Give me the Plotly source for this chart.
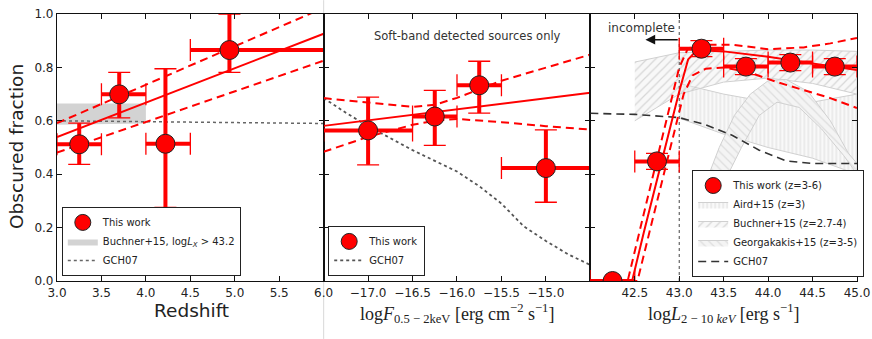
import plotly.graph_objects as go

# ---- left panel: obscured fraction vs redshift ----
z_mid = [3.25, 3.70, 4.22, 4.94]
z_lo = [3.0, 3.5, 4.0, 4.5]
z_hi = [3.5, 4.0, 4.5, 6.0]
fz = [0.512, 0.699, 0.514, 0.865]
fz_lo = [0.437, 0.611, 0.276, 0.781]
fz_hi = [0.591, 0.781, 0.795, 1.0]

zfit_x = [3.0, 6.0]
zfit = [0.539, 0.926]
zfit_up = [0.591, 1.023]
zfit_dn = [0.481, 0.825]

buchner_z = [3.0, 4.0]
buchner_z_up = [0.665, 0.665]
buchner_z_dn = [0.585, 0.590]

gch_z = [3.0, 4.0, 5.0, 6.0]
gch_z_f = [0.600, 0.597, 0.594, 0.590]

# ---- middle panel: vs soft-band flux ----
s_mid = [-17.0, -16.25, -15.75, -15.0]
s_lo = [-17.5, -16.5, -16.0, -15.5]
s_hi = [-16.5, -16.0, -15.5, -14.5]
fs = [0.564, 0.616, 0.733, 0.423]
fs_lo = [0.435, 0.508, 0.629, 0.295]
fs_hi = [0.689, 0.714, 0.823, 0.566]

sfit_x = [-17.5, -14.5]
sfit = [0.581, 0.705]
sband_x = [-17.5, -17.0, -16.5, -16.25, -16.0, -15.5, -15.0, -14.5]
sband_up = [0.685, 0.668, 0.652, 0.660, 0.686, 0.750, 0.800, 0.848]
sband_dn = [0.484, 0.540, 0.585, 0.600, 0.607, 0.595, 0.580, 0.567]

gch_s = [-17.5, -17.25, -17.0, -16.75, -16.5, -16.25, -16.0, -15.75, -15.5, -15.25, -15.0, -14.75, -14.5]
gch_s_f = [0.685, 0.630, 0.580, 0.535, 0.490, 0.450, 0.410, 0.355, 0.290, 0.205, 0.150, 0.100, 0.060]

# ---- right panel: vs hard-band luminosity ----
l_mid = [42.25, 42.75, 43.25, 43.75, 44.25, 44.75]
l_lo = [42.0, 42.5, 43.0, 43.5, 44.0, 44.5]
l_hi = [42.5, 43.0, 43.5, 44.0, 44.5, 45.0]
fl = [0.0, 0.448, 0.870, 0.803, 0.818, 0.803]
fl_lo = [0.0, 0.418, 0.840, 0.773, 0.788, 0.773]
fl_hi = [0.0, 0.478, 0.900, 0.833, 0.848, 0.833]

lfit_x = [42.0, 42.47, 42.6, 42.75, 42.9, 43.0, 43.1, 43.2, 43.5, 44.0, 44.5, 45.0]
lfit = [0.0, 0.0, 0.18, 0.38, 0.58, 0.71, 0.83, 0.865, 0.860, 0.840, 0.815, 0.790]
lup_x = [42.0, 42.42, 42.6, 42.8, 43.0, 43.1, 43.3, 43.6, 44.0, 44.4, 44.7, 45.0]
lup = [0.0, 0.0, 0.25, 0.53, 0.80, 0.872, 0.885, 0.885, 0.868, 0.875, 0.890, 0.910]
ldn_x = [42.0, 42.53, 42.7, 42.9, 43.05, 43.15, 43.3, 43.5, 43.8, 44.1, 44.4, 44.7, 45.0]
ldn = [0.0, 0.0, 0.23, 0.50, 0.70, 0.77, 0.795, 0.800, 0.780, 0.745, 0.715, 0.685, 0.648]

aird_x = [43.0, 43.5, 44.0, 44.5, 45.0]
aird_up = [0.740, 0.700, 0.670, 0.670, 0.700]
aird_dn = [0.610, 0.550, 0.500, 0.460, 0.400]

buch_x = [42.5, 43.0, 43.5, 44.0, 44.5, 45.0]
buch_up = [0.820, 0.855, 0.860, 0.865, 0.865, 0.860]
buch_dn = [0.600, 0.700, 0.745, 0.760, 0.740, 0.700]

geo_out_x = [43.28, 43.30, 43.45, 43.62, 43.80, 44.00, 44.20, 44.45, 44.70, 44.90, 45.0]
geo_out = [0.300, 0.370, 0.500, 0.620, 0.700, 0.750, 0.755, 0.710, 0.600, 0.480, 0.440]
geo_in_x = [45.0, 44.85, 44.60, 44.35, 44.10, 43.90, 43.70, 43.55, 43.42]
geo_in = [0.400, 0.470, 0.570, 0.650, 0.670, 0.620, 0.500, 0.400, 0.300]

gch_l = [42.0, 42.5, 43.0, 43.3, 43.6, 43.9, 44.2, 44.5, 45.0]
gch_l_f = [0.628, 0.624, 0.612, 0.585, 0.545, 0.490, 0.450, 0.440, 0.440]

RED = "#ff0000"
fig = go.Figure()


def points(x, xl, xh, y, yl, yh, xa, ya, name, leg):
    ex_p = [b - a for a, b in zip(x, xh)]
    ex_m = [a - b for a, b in zip(x, xl)]
    ey_p = [b - a for a, b in zip(y, yh)]
    ey_m = [a - b for a, b in zip(y, yl)]
    # thin caps
    fig.add_trace(go.Scatter(
        x=x, y=y, xaxis=xa, yaxis=ya, mode="markers", showlegend=False,
        marker=dict(size=1, color="rgba(0,0,0,0)"),
        error_x=dict(type="data", symmetric=False, array=ex_p, arrayminus=ex_m, color=RED, thickness=1.3, width=11),
        error_y=dict(type="data", symmetric=False, array=ey_p, arrayminus=ey_m, color=RED, thickness=1.3, width=11),
        hoverinfo="skip"))
    # thick stems + markers
    fig.add_trace(go.Scatter(
        x=x, y=y, xaxis=xa, yaxis=ya, mode="markers", name=name, legend=leg, legendrank=1,
        marker=dict(size=19, color=RED, line=dict(color="#222", width=1)),
        error_x=dict(type="data", symmetric=False, array=ex_p, arrayminus=ex_m, color=RED, thickness=4, width=0),
        error_y=dict(type="data", symmetric=False, array=ey_p, arrayminus=ey_m, color=RED, thickness=4, width=0)))


def line(x, y, xa, ya, dash="solid", color=RED, width=2, name=None, leg="legend", rank=1000):
    fig.add_trace(go.Scatter(
        x=x, y=y, xaxis=xa, yaxis=ya, mode="lines", name=name, legend=leg, legendrank=rank,
        showlegend=name is not None, line=dict(color=color, width=width, dash=dash)))


def band(x, up, dn, xa, ya, name, leg, rank, **kw):
    fig.add_trace(go.Scatter(
        x=list(x) + list(x)[::-1], y=list(up) + list(dn)[::-1], xaxis=xa, yaxis=ya,
        mode="lines", fill="toself", name=name, legend=leg, legendrank=rank, **kw))


# left panel
band(buchner_z, buchner_z_up, buchner_z_dn, "x", "y", "Buchner+15, log<i>L<sub>X</sub></i> > 43.2", "legend", 2,
     line=dict(width=0, color="#d3d3d3"), fillcolor="#d3d3d3")
line(gch_z, gch_z_f, "x", "y", dash="dot", color="#666", width=1.5, name="GCH07", leg="legend", rank=3)
line(zfit_x, zfit, "x", "y")
line(zfit_x, zfit_up, "x", "y", dash="8px,5px")
line(zfit_x, zfit_dn, "x", "y", dash="8px,5px")
points(z_mid, z_lo, z_hi, fz, fz_lo, fz_hi, "x", "y", "This work", "legend")

# middle panel
line(gch_s, gch_s_f, "x2", "y2", dash="dot", color="#555", width=1.8, name="GCH07", leg="legend2", rank=3)
line(sfit_x, sfit, "x2", "y2")
line(sband_x, sband_up, "x2", "y2", dash="8px,5px")
line(sband_x, sband_dn, "x2", "y2", dash="8px,5px")
points(s_mid, s_lo, s_hi, fs, fs_lo, fs_hi, "x2", "y2", "This work", "legend2")

# right panel
EDGE = "#d0d0d0"
band(aird_x, aird_up, aird_dn, "x3", "y3", "Aird+15 (z=3)", "legend3", 2,
     line=dict(width=1, color=EDGE),
     fillpattern=dict(shape="|", fgcolor="#c4c4c4", bgcolor="rgba(235,235,235,0.3)", size=4, solidity=0.25))
band(buch_x, buch_up, buch_dn, "x3", "y3", "Buchner+15 (z=2.7-4)", "legend3", 3,
     line=dict(width=1, color=EDGE),
     fillpattern=dict(shape="/", fgcolor="#b4b4b4", bgcolor="rgba(235,235,235,0.35)", size=6, solidity=0.2))
fig.add_trace(go.Scatter(
    x=geo_out_x + geo_in_x, y=geo_out + geo_in, xaxis="x3", yaxis="y3", mode="lines", fill="toself",
    name="Georgakakis+15 (z=3-5)", legend="legend3", legendrank=4, line=dict(width=1, color=EDGE),
    fillpattern=dict(shape="\\", fgcolor="#c6c6c6", bgcolor="#f4f4f4", size=6, solidity=0.2)))
line(gch_l, gch_l_f, "x3", "y3", dash="8px,5px", color="#333", width=1.6, name="GCH07", leg="legend3", rank=5)
line([43.0, 43.0], [0.0, 1.0], "x3", "y3", dash="dot", color="#444", width=1)
line(lup_x, lup, "x3", "y3", dash="8px,5px")
line(ldn_x, ldn, "x3", "y3", dash="8px,5px")
line(lfit_x, lfit, "x3", "y3")
points(l_mid, l_lo, l_hi, fl, fl_lo, fl_hi, "x3", "y3", "This work (z=3-6)", "legend3")

ax_common = dict(showline=True, linecolor="#111", linewidth=1.2, mirror="allticks", ticks="inside",
                 ticklen=5, tickcolor="#111", showgrid=False, zeroline=False, ticklabeloverflow="allow",
                 tickfont=dict(family="DejaVu Sans", size=12, color="#222"))

yt = [0.0, 0.2, 0.4, 0.6, 0.8, 1.0]
zt = [3.0, 3.5, 4.0, 4.5, 5.0, 5.5, 6.0]
st = [-17.5, -17.0, -16.5, -16.0, -15.5, -15.0, -14.5]
lt = [42.0, 42.5, 43.0, 43.5, 44.0, 44.5, 45.0]

leg_common = dict(xanchor="left", yanchor="bottom", bgcolor="white", bordercolor="#222", borderwidth=1,
                  font=dict(size=10), tracegroupgap=0, itemwidth=30)
lab = dict(xref="paper", yref="paper", showarrow=False, xanchor="center", yanchor="middle")

fig.update_layout(
    xaxis=dict(domain=[0, 1 / 3], range=[3, 6], tickvals=zt, ticktext=[f"{v:.1f}" for v in zt], anchor="y", **ax_common),
    xaxis2=dict(domain=[1 / 3, 2 / 3], range=[-17.5, -14.5], tickvals=st,
                ticktext=[""] + [f"{v:.1f}".replace("-", "\u2212") for v in st[1:-1]] + [""], anchor="y2", **ax_common),
    xaxis3=dict(domain=[2 / 3, 1], range=[42, 45], tickvals=lt, ticktext=[""] + [f"{v:.1f}" for v in lt[1:]],
                anchor="y3", **ax_common),
    yaxis=dict(range=[0, 1], tickvals=yt, ticktext=[f"{v:.1f}" for v in yt], anchor="x", **ax_common),
    yaxis2=dict(range=[0, 1], tickvals=yt, showticklabels=False, anchor="x2", **ax_common),
    yaxis3=dict(range=[0, 1], tickvals=yt, showticklabels=False, anchor="x3", **ax_common),
    width=872, height=339, margin=dict(l=57, r=15, t=14, b=58, autoexpand=False),
    paper_bgcolor="white", plot_bgcolor="white",
    font=dict(family="DejaVu Sans", color="#222"),
    legend=dict(x=0.006, y=0.019, **leg_common),
    legend2=dict(x=0.339, y=0.019, **leg_common),
    legend3=dict(x=0.794, y=0.015, **leg_common),
    shapes=[dict(type="line", xref="paper", yref="paper", x0=1 / 3, x1=1 / 3, y0=-0.217, y1=1.052,
                 line=dict(color="#d8d8d8", width=1), layer="below")],
    annotations=[
        dict(text="Obscured fraction", x=-0.05, y=0.502, textangle=-90, font=dict(size=18.5, color="#222"), **lab),
        dict(text="Redshift", x=0.1675, y=-0.112, font=dict(size=18.5, color="#222"), **lab),
        dict(text="log<i>F</i><sub>0.5 \u2212 2keV</sub> [erg cm<sup>\u22122</sup> s<sup>\u22121</sup>]",
             x=0.5, y=-0.12, font=dict(family="Liberation Serif", size=18, color="#222"), **lab),
        dict(text="log<i>L</i><sub>2 \u2212 10 <i>keV</i></sub> [erg s<sup>\u22121</sup>]",
             x=0.8325, y=-0.12, font=dict(family="Liberation Serif", size=18, color="#222"), **lab),
        dict(text="Soft-band detected sources only", xref="x2", yref="y2", x=-15.88, y=0.916, showarrow=False,
             font=dict(size=11.5, color="#333")),
        dict(text="incomplete", xref="x3", yref="y3", x=42.57, y=0.946, showarrow=False,
             font=dict(size=12, color="#333")),
        dict(text="", xref="x3", yref="y3", x=42.62, y=0.904, ax=43.0, ay=0.904, axref="x3", ayref="y3",
             showarrow=True, arrowhead=2, arrowsize=1.3, arrowwidth=1.5, arrowcolor="#111"),
    ],
)

# drop the default page margin so the figure fills the window exactly
fig.write_html("out.html", config={"displayModeBar": False},
               post_script="document.body.style.margin='0px';")
